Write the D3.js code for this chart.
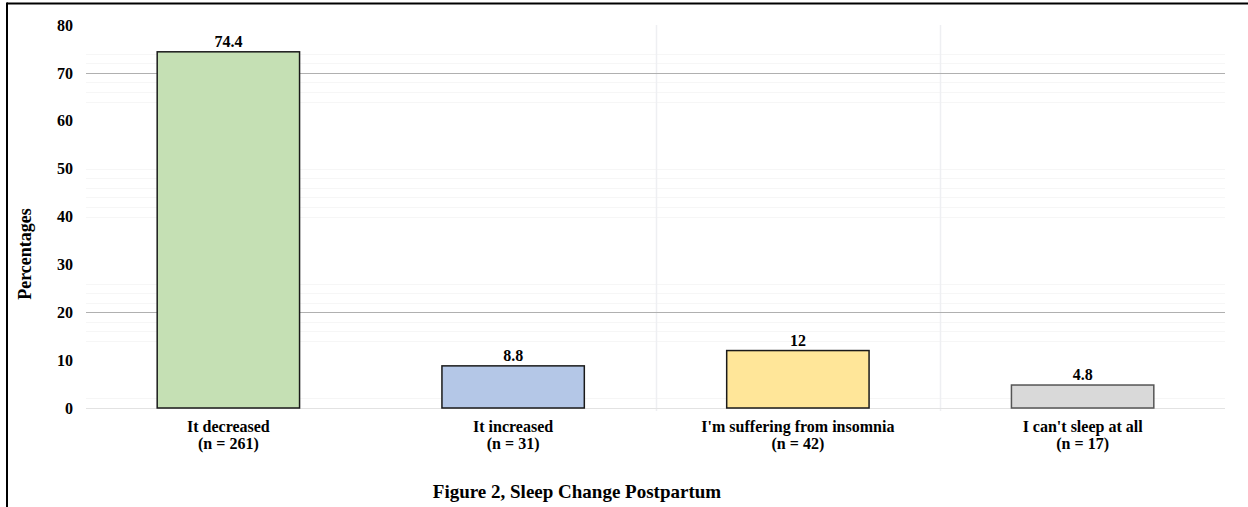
<!DOCTYPE html>
<html>
<head>
<meta charset="utf-8">
<script src="https://cdn.jsdelivr.net/npm/d3@7"></script>
<style>
  html, body { margin: 0; padding: 0; background: #fff; }
  svg { display: block; }
  svg text { font-family: "Liberation Serif", Tinos, "Times New Roman", Times, "DejaVu Serif", serif !important; font-weight: bold; fill: #000; }
</style>
</head>
<body>
<svg id="chart" width="1248" height="507"></svg>
<script>
// Sleep change after childbirth, share of respondents (%)
const categories = ["It decreased", "It increased", "I'm suffering from insomnia", "I can't sleep at all"];
const counts = [261, 31, 42, 17];
const percentages = [74.4, 8.8, 12, 4.8];
const barColors = ["#c5e0b4", "#b4c7e7", "#ffe699", "#d9d9d9"];
const barStrokes = ["#1a1a1a", "#1a1a1a", "#1a1a1a", "#555555"];
const yTicks = [0, 10, 20, 30, 40, 50, 60, 70, 80];
const majorGrid = [20, 70];
const minorGrid = [2, 14, 16, 18, 22, 24, 26, 40, 42, 44, 46, 48, 50, 64, 66, 68, 72, 74];
const title = "Figure 2, Sleep Change Postpartum";
const yLabel = "Percentages";

const serif = "'Liberation Serif', Tinos, 'Times New Roman', Times, 'DejaVu Serif', serif";
const svg = d3.select("#chart");
const plot = { left: 86, right: 1225, top: 25, bottom: 408 };

const x = d3.scaleBand()
  .domain(categories)
  .range([plot.left, plot.right])
  .paddingInner(0.5)
  .paddingOuter(0.25);

const y = d3.scaleLinear()
  .domain([0, 80])
  .range([plot.bottom, plot.top]);

// frame: top and left rules
svg.append("line").attr("x1", 7).attr("x2", 1248).attr("y1", 3.5).attr("y2", 3.5)
  .attr("stroke", "#000").attr("stroke-width", 2);
svg.append("line").attr("x1", 7).attr("x2", 7).attr("y1", 2.5).attr("y2", 507)
  .attr("stroke", "#000").attr("stroke-width", 2);

// faint minor grid
svg.append("g").selectAll("line").data(minorGrid).join("line")
  .attr("x1", plot.left).attr("x2", plot.right)
  .attr("y1", d => Math.round(y(d)) + 0.5).attr("y2", d => Math.round(y(d)) + 0.5)
  .attr("stroke", "#f6f6f6").attr("stroke-width", 1);

// vertical separators between the last three categories
const seps = categories.slice(2).map(c => x(c) - x.step() * x.paddingInner() / 2);
svg.append("g").selectAll("line").data(seps).join("line")
  .attr("x1", d => Math.round(d) + 0.5).attr("x2", d => Math.round(d) + 0.5)
  .attr("y1", plot.top).attr("y2", plot.bottom + 3)
  .attr("stroke", "#eeeff2").attr("stroke-width", 1.5);

// major grid lines
svg.append("g").selectAll("line").data(majorGrid).join("line")
  .attr("x1", plot.left).attr("x2", plot.right)
  .attr("y1", d => Math.round(y(d)) + 0.5).attr("y2", d => Math.round(y(d)) + 0.5)
  .attr("stroke", "#b0b0b0").attr("stroke-width", 1.2);

// baseline
svg.append("line")
  .attr("x1", plot.left).attr("x2", plot.right)
  .attr("y1", y(0) + 0.5).attr("y2", y(0) + 0.5)
  .attr("stroke", "#e2e2e2").attr("stroke-width", 1.2);

// y axis labels
const yAxis = d3.axisLeft(y).tickValues(yTicks).tickSize(0).tickPadding(13);
const yg = svg.append("g").attr("transform", `translate(${plot.left},0)`).call(yAxis)
  .attr("font-family", serif).attr("font-size", 16);
yg.select(".domain").remove();
yg.selectAll("text").attr("font-weight", "bold").attr("fill", "#000");

// bars
const data = categories.map((c, i) => ({ c, n: counts[i], v: percentages[i], fill: barColors[i], stroke: barStrokes[i] }));
svg.append("g").selectAll("rect").data(data).join("rect")
  .attr("x", d => x(d.c))
  .attr("y", d => y(d.v))
  .attr("width", x.bandwidth())
  .attr("height", d => y(0) - y(d.v))
  .attr("fill", d => d.fill)
  .attr("stroke", d => d.stroke)
  .attr("stroke-width", 1.5);

// value labels
svg.append("g").selectAll("text").data(data).join("text")
  .attr("x", d => x(d.c) + x.bandwidth() / 2)
  .attr("y", d => y(d.v) - 5)
  .attr("text-anchor", "middle")
  .attr("font-family", serif)
  .attr("font-size", 16)
  .text(d => d.v);

// category labels (two lines)
const cat = svg.append("g").selectAll("text").data(data).join("text")
  .attr("text-anchor", "middle")
  .attr("font-family", serif)
  .attr("font-size", 16);
cat.append("tspan")
  .attr("x", d => x(d.c) + x.bandwidth() / 2).attr("y", 432)
  .text(d => d.c);
cat.append("tspan")
  .attr("x", d => x(d.c) + x.bandwidth() / 2).attr("y", 449)
  .text(d => `(n = ${d.n})`);

// axis title
svg.append("text")
  .attr("transform", "translate(31,254) rotate(-90)")
  .attr("text-anchor", "middle")
  .attr("font-family", serif)
  .attr("font-size", 18)
  .text(yLabel);

// figure caption
svg.append("text")
  .attr("x", 577).attr("y", 498)
  .attr("text-anchor", "middle")
  .attr("font-family", serif)
  .attr("font-size", 19)
  .text(title);
</script>
</body>
</html>
